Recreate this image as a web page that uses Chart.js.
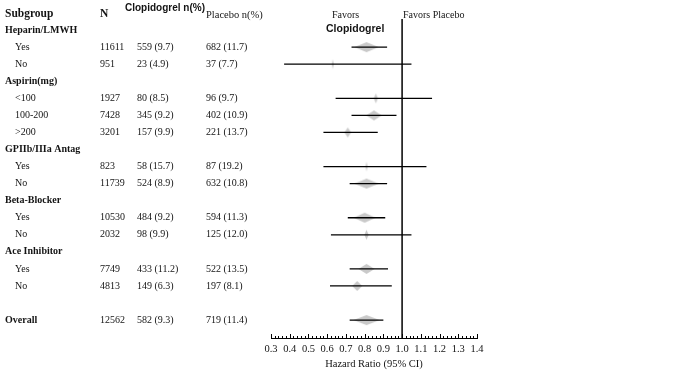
<!DOCTYPE html>
<html>
<head>
<meta charset="utf-8">
<script src="https://cdn.jsdelivr.net/npm/chart.js@4.4.1/dist/chart.umd.min.js"></script>
<style>
    html, body { margin: 0; padding: 0; background: #ffffff; }
    #forest { display: block; }
</style>
</head>
<body>
<canvas id="forest" width="683" height="384"></canvas>
<script>
// linhas da tabela (a linha 0 e o cabecalho)
const subgroups = ['Heparin/LMWH', 'Yes', 'No', 'Aspirin(mg)', '<100', '100-200', '>200',
    'GPIIb/IIIa Antag', 'Yes', 'No', 'Beta-Blocker', 'Yes', 'No', 'Ace Inhibitor', 'Yes', 'No', '', 'Overall'];
const totalN     = [null, 11611, 951, null, 1927, 7428, 3201, null, 823, 11739, null, 10530, 2032, null, 7749, 4813, null, 12562];
const clopEvents = [null, 559, 23, null, 80, 345, 157, null, 58, 524, null, 484, 98, null, 433, 149, null, 582];
const clopPct    = [null, 9.7, 4.9, null, 8.5, 9.2, 9.9, null, 15.7, 8.9, null, 9.2, 9.9, null, 11.2, 6.3, null, 9.3];
const placEvents = [null, 682, 37, null, 96, 402, 221, null, 87, 632, null, 594, 125, null, 522, 197, null, 719];
const placPct    = [null, 11.7, 7.7, null, 9.7, 10.9, 13.7, null, 19.2, 10.8, null, 11.3, 12.0, null, 13.5, 8.1, null, 11.4];

// hazard ratio e IC 95%
const hazard = [null, 0.81, 0.63, null, 0.86, 0.85, 0.71, null, 0.81, 0.81, null, 0.80, 0.81, null, 0.81, 0.76, null, 0.81];
const ciLow  = [null, 0.73, 0.37, null, 0.645, 0.73, 0.58, null, 0.58, 0.72, null, 0.71, 0.62, null, 0.72, 0.615, null, 0.72];
const ciHigh = [null, 0.92, 1.05, null, 1.16, 0.97, 0.87, null, 1.13, 0.92, null, 0.91, 1.05, null, 0.925, 0.945, null, 0.90];

const xTicks = [0.3, 0.4, 0.5, 0.6, 0.7, 0.8, 0.9, 1.0, 1.1, 1.2, 1.3, 1.4];

const SERIF = '"Liberation Serif", "DejaVu Serif", serif';
const SANS = '"Liberation Sans", Arial, sans-serif';
const TEXTO = '#141414';

function losango(largura, altura) {
    var c = document.createElement('canvas');
    c.width = Math.ceil(largura) + 2;
    c.height = altura + 2;
    var g = c.getContext('2d');
    var cx = c.width / 2, cy = c.height / 2;
    g.fillStyle = '#c9c9c9';
    g.beginPath();
    g.moveTo(cx - largura / 2, cy);
    g.lineTo(cx, cy - altura / 2);
    g.lineTo(cx + largura / 2, cy);
    g.lineTo(cx, cy + altura / 2);
    g.closePath();
    g.fill();
    return c;
}

var pontos = [];
var estilos = [];
var linhasIC = [];
subgroups.forEach(function(nome, i) {
    if (hazard[i] === null) return;
    var row = i + 1;
    pontos.push({ x: hazard[i], y: row });
    estilos.push(losango(Math.max(2, totalN[i] / 480), 10));
    linhasIC.push({ x: ciLow[i], y: row });
    linhasIC.push({ x: ciHigh[i], y: row });
    linhasIC.push({ x: ciHigh[i], y: null });
});

const tabelaPlugin = {
    id: 'tabela',
    beforeDatasetsDraw: function(chart) {
        var ctx = chart.ctx;
        var xs = chart.scales.x;
        var x1 = xs.getPixelForValue(1);
        ctx.save();
        ctx.strokeStyle = '#000';
        ctx.lineWidth = 1.5;
        ctx.beginPath();
        ctx.moveTo(x1, chart.chartArea.top);
        ctx.lineTo(x1, chart.chartArea.bottom);
        ctx.stroke();
        ctx.restore();
    },
    afterDraw: function(chart) {
        var ctx = chart.ctx;
        var xs = chart.scales.x, ys = chart.scales.y;
        ctx.save();
        ctx.fillStyle = TEXTO;
        ctx.textBaseline = 'middle';
        ctx.textAlign = 'left';

        // cabecalho
        var y0 = ys.getPixelForValue(0);
        ctx.font = 'bold 11.5px ' + SERIF;
        ctx.fillText('Subgroup', 5, y0 + 1);
        ctx.fillText('N', 100, y0 + 1);
        ctx.font = 'bold 10px ' + SANS;
        ctx.fillText('Clopidogrel n(%)', 125, y0 - 5);
        ctx.font = '10.5px ' + SERIF;
        ctx.fillText('Placebo n(%)', 206, y0 + 2);

        ctx.font = '10px ' + SERIF;
        ctx.fillText('Favors', 332, y0 + 2);
        ctx.fillText('Favors Placebo', 403, y0 + 2);
        ctx.font = 'bold 10.5px ' + SANS;
        ctx.fillText('Clopidogrel', 326, y0 + 16);

        subgroups.forEach(function(nome, i) {
            var y = ys.getPixelForValue(i + 1);
            var negrito = totalN[i] === null || nome === 'Overall';
            ctx.font = (negrito ? 'bold ' : '') + '10px ' + SERIF;
            ctx.fillText(nome, negrito ? 5 : 15, y);
            if (totalN[i] === null) return;
            ctx.font = '10px ' + SERIF;
            ctx.fillText(String(totalN[i]), 100, y);
            ctx.fillText(clopEvents[i] + ' (' + clopPct[i].toFixed(1) + ')', 137, y);
            ctx.fillText(placEvents[i] + ' (' + placPct[i].toFixed(1) + ')', 206, y);
        });

        // marcas do eixo x
        var base = xs.top;
        ctx.strokeStyle = '#000';
        ctx.lineWidth = 1;
        for (var k = 0; k <= 55; k++) {
            var v = 0.3 + k * 0.02;
            var px = Math.round(xs.getPixelForValue(v)) + 0.5;
            var h = (k % 5 === 0) ? 4 : 2;
            ctx.beginPath();
            ctx.moveTo(px, base);
            ctx.lineTo(px, base - h);
            ctx.stroke();
        }
        ctx.restore();
    }
};

new Chart(document.getElementById('forest'), {
    type: 'scatter',
    data: {
        datasets: [
            {
                data: linhasIC,
                showLine: true,
                spanGaps: false,
                borderColor: '#000',
                borderWidth: 1.3,
                pointRadius: 0,
                order: 0
            },
            {
                data: pontos,
                pointStyle: estilos,
                order: 1
            }
        ]
    },
    options: {
        responsive: false,
        animation: false,
        layout: { padding: { left: 271, right: 206, top: 19, bottom: 0 } },
        plugins: {
            legend: { display: false },
            tooltip: { enabled: false }
        },
        scales: {
            x: {
                type: 'linear',
                min: 0.3,
                max: 1.4,
                afterBuildTicks: function(scale) {
                    scale.ticks = xTicks.map(function(v) { return { value: v }; });
                },
                afterFit: function(scale) { scale.height = 46; },
                grid: { display: false, drawTicks: false },
                border: { display: true, color: '#000', width: 1 },
                ticks: {
                    color: TEXTO,
                    padding: 5,
                    maxRotation: 0,
                    autoSkip: false,
                    font: { family: SERIF, size: 10.5 },
                    callback: function(v) { return Number(v).toFixed(1); }
                },
                title: {
                    display: true,
                    text: 'Hazard Ratio (95% CI)',
                    color: TEXTO,
                    font: { family: SERIF, size: 10.5 },
                    padding: { top: 2, bottom: 13 }
                }
            },
            y: {
                type: 'linear',
                display: false,
                reverse: true,
                min: 0.35,
                max: 19.05
            }
        }
    },
    plugins: [tabelaPlugin]
});
</script>
</body>
</html>
